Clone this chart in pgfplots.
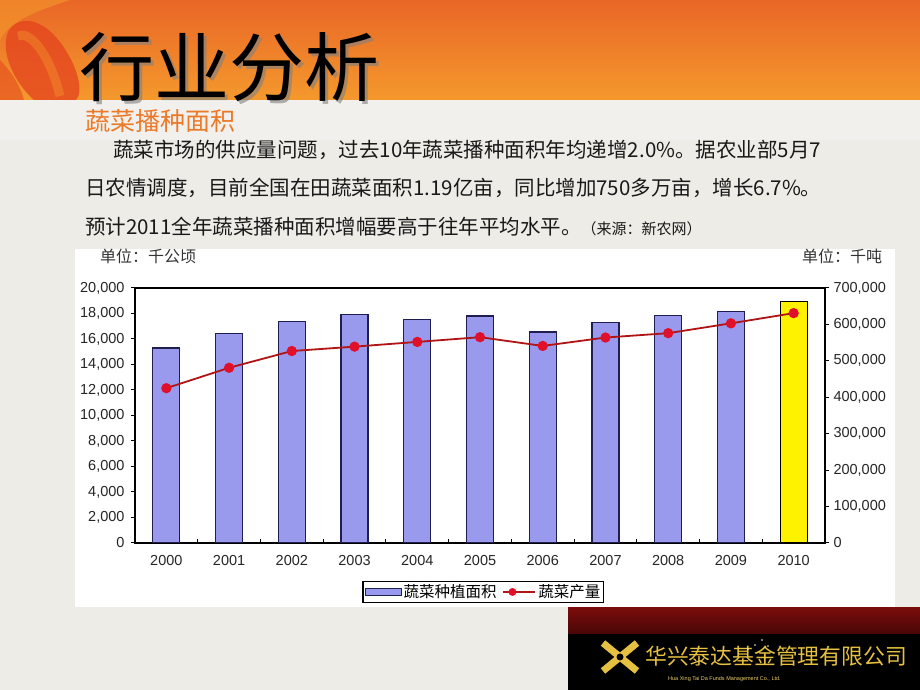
\documentclass[border=0pt]{standalone}
\usepackage{pgfplots}
\pgfplotsset{compat=1.18}
\usepackage{fontspec}
\setmainfont{Liberation Sans}
\newfontfamily\cjk{Noto Sans CJK SC}
\usetikzlibrary{shadings}

\definecolor{bg}{HTML}{EEECE6}
\definecolor{orA}{HTML}{E96627}
\definecolor{orB}{HTML}{F4992C}
\definecolor{subor}{HTML}{EA7A2A}
\definecolor{barfill}{HTML}{9999EE}
\definecolor{bardraw}{HTML}{1E1E50}
\definecolor{linered}{HTML}{B01414}
\definecolor{markred}{HTML}{E0102A}
\definecolor{gold}{HTML}{E6C040}
\definecolor{darkred}{HTML}{7A0C0C}
\definecolor{swirl}{HTML}{E4421E}

\begin{document}
\begin{tikzpicture}
% slide background, drawn in pixel coordinates (y down)
\begin{scope}[x=1bp,y=-1bp,yshift=690bp,every node/.style={inner sep=0pt}]
  \fill[bg] (0,0) rectangle (920,690);
  \fill[white,opacity=0.25] (0,100) rectangle (920,140);
  % header band
  \shade[top color=orA,bottom color=orB] (0,0) rectangle (920,100);
  \fill[orB,opacity=0.6] (0,0) -- (70,0) .. controls (40,10) and (10,20) .. (0,40) -- cycle;
  \fill[swirl,opacity=0.75] (8,32) .. controls (18,14) and (42,18) .. (60,42)
     .. controls (78,66) and (84,92) .. (76,100) -- (34,100)
     .. controls (14,82) and (0,52) .. (8,32) -- cycle;
  \draw[orB,opacity=0.4,line width=9bp] (18,36) .. controls (30,30) and (50,55) .. (60,96);
  \fill[swirl,opacity=0.55] (0,60) .. controls (10,70) and (20,85) .. (24,100) -- (0,100) -- cycle;
  % title
  \node[anchor=base west,text=black!50,opacity=0.6,font=\cjk\fontsize{75bp}{78bp}\selectfont] at (82,99) {行业分析};
  \node[anchor=base west,font=\cjk\fontsize{75bp}{78bp}\selectfont] at (79,96) {行业分析};
  \node[anchor=base west,text=subor,font=\cjk\fontsize{25bp}{28bp}\selectfont] at (85,131) {蔬菜播种面积};
  % body text
  \begin{scope}[every node/.append style={anchor=base west,text=black!90,font=\cjk\fontsize{20.5bp}{24bp}\selectfont}]
    \node at (113,158) {蔬菜市场的供应量问题，过去10年蔬菜播种面积年均递增2.0\%。据农业部5月7};
    \node at (85,196) {日农情调度，目前全国在田蔬菜面积1.19亿亩，同比增加750多万亩，增长6.7\%。};
    \node at (85,235) {预计2011全年蔬菜播种面积增幅要高于往年平均水平。{\fontsize{15bp}{18bp}\selectfont（来源：新农网）}};
  \end{scope}
  % chart panel
  \fill[white] (75,249) rectangle (895,607);
  \node[anchor=base west,text=black!80,font=\cjk\fontsize{16bp}{18bp}\selectfont] at (100,263) {单位：千公顷};
  \node[anchor=base west,text=black!80,font=\cjk\fontsize{16bp}{18bp}\selectfont] at (802,263) {单位：千吨};
  % company bar
  \shade[top color=darkred,bottom color=darkred!60!black] (568,608) rectangle (920,634);
  \fill[black] (568,634) rectangle (920,690);
  \draw[gold,line width=7bp] (603,643) -- (637,671);
  \draw[gold,line width=7bp] (637,643) -- (603,671);
  \fill[black] (620,657) circle (3.5bp);
  \node[anchor=base west,text=gold,font=\cjk\fontsize{21.8bp}{24bp}\selectfont] at (645,665) {华兴泰达基金管理有限公司};
  \node[anchor=base west,text=gold!80,font=\fontsize{5.5bp}{6bp}\selectfont] at (668,681) {Hua Xing Tai Da Funds Management Co., Ltd.};
  \foreach \p in {(755,645),(762,640),(748,649),(768,646)} \fill[white!80!gold] \p circle (0.9bp);
\end{scope}

% bars, left axis
\begin{axis}[
  at={(135bp,147bp)}, anchor=south west, scale only axis,
  width=690bp, height=255bp,
  xmin=-0.5, xmax=10.5, ymin=0, ymax=20000,
  ybar, bar width=27bp, bar shift=0pt,
  xtick={0,...,10},
  xticklabels={2000,2001,2002,2003,2004,2005,2006,2007,2008,2009,2010},
  major x tick style={draw=none},
  minor xtick={0.5,1.5,...,9.5},
  xtick align=inside, ytick align=outside,
  xtick pos=bottom, ytick pos=left,
  major tick length=4bp, minor tick length=4bp,
  ytick={0,2000,...,20000},
  scaled ticks=false,
  /pgf/number format/.cd, fixed, 1000 sep={,}, assume math mode=true, /pgfplots/.cd,
  tick label style={font=\fontsize{14.5bp}{17bp}\selectfont, text=black!85},
  yticklabel style={xshift=-3bp},
  xticklabel style={yshift=-9bp},
  axis line style={line width=1.2bp},
  tick style={line width=1bp, black},
]
\addplot[fill=barfill, draw=bardraw, line width=1.2bp] coordinates {
  (0,15300) (1,16400) (2,17350) (3,17950) (4,17550) (5,17800)
  (6,16550) (7,17300) (8,17850) (9,18150)
};
\addplot[fill=yellow, draw=black, line width=1.2bp] coordinates {
  (10,18950)
};
\end{axis}

% production, right axis
\begin{axis}[
  at={(135bp,147bp)}, anchor=south west, scale only axis,
  width=690bp, height=255bp,
  xmin=-0.5, xmax=10.5, ymin=0, ymax=700000,
  axis x line=none, axis y line*=right,
  ytick={0,100000,...,700000},
  ytick align=outside, major tick length=4bp,
  scaled ticks=false,
  /pgf/number format/.cd, fixed, 1000 sep={,}, assume math mode=true, /pgfplots/.cd,
  tick label style={font=\fontsize{14.5bp}{17bp}\selectfont, text=black!85},
  yticklabel style={xshift=1bp},
  axis line style={line width=1.2bp},
  tick style={line width=1bp, black},
  legend style={at={(0.505,-0.192)}, anchor=center, draw=black, line width=1.2bp,
    fill=white, inner sep=1.5bp,
    font=\cjk\fontsize{15.5bp}{18bp}\selectfont},
  legend columns=2,
  legend cell align=left,
  /tikz/every even column/.append style={column sep=4bp},
]
\addlegendimage{legend image code/.code={
  \draw[fill=barfill,draw=bardraw,line width=1bp] (0bp,-3.5bp) rectangle (36bp,3.5bp);}}
\addlegendentry{蔬菜种植面积}
\addplot[linered, line width=1.8bp, mark=*, mark size=4.2bp,
  mark options={fill=markred, draw=markred},
  legend image code/.code={
    \draw[linered,line width=1.8bp] (0bp,0bp) -- (32bp,0bp);
    \fill[markred] (9bp,0bp) circle (3bp);}]
  coordinates {
  (0,425000) (1,481000) (2,527000) (3,539000) (4,552000) (5,565000)
  (6,541000) (7,564000) (8,576000) (9,603000) (10,631000)
};
\addlegendentry{蔬菜产量}
\end{axis}

\pgfresetboundingbox
\useasboundingbox (0,0) rectangle (920bp,690bp);
\end{tikzpicture}
\end{document}
